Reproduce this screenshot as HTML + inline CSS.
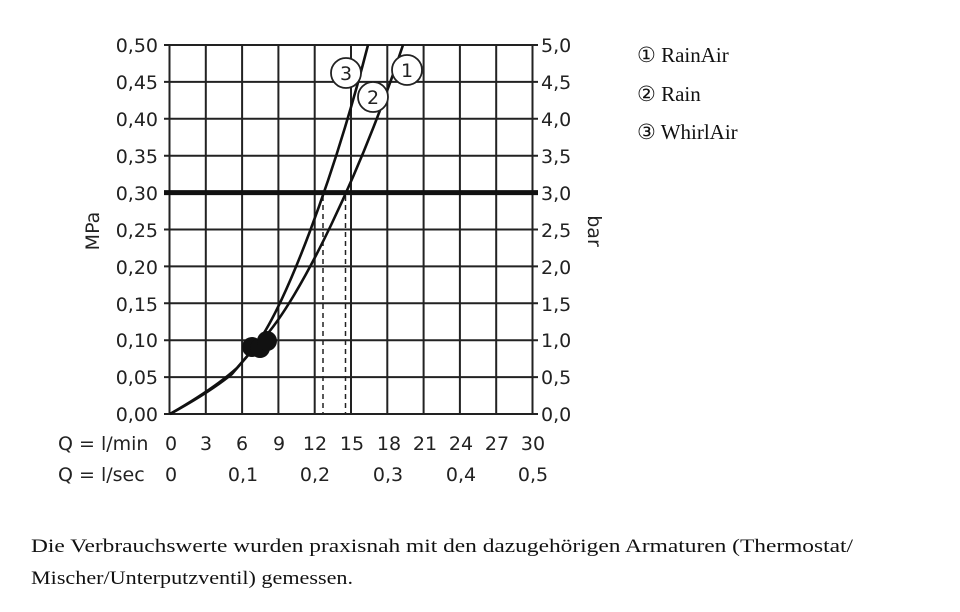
<!DOCTYPE html>
<html><head><meta charset="utf-8"><style>
html,body{margin:0;padding:0;background:#fff;}
svg{display:block;}
.s{font-family:"DejaVu Sans","Liberation Sans",sans-serif;font-size:19px;fill:#222;}
.r{font-family:"Liberation Serif",serif;fill:#111;}
</style></head><body>
<svg width="960" height="612" viewBox="0 0 960 612" xmlns="http://www.w3.org/2000/svg">
<g stroke="#222" stroke-width="2" fill="none">
<line x1="169.5" y1="45" x2="169.5" y2="414"/>
<line x1="205.8" y1="45" x2="205.8" y2="414"/>
<line x1="242.1" y1="45" x2="242.1" y2="414"/>
<line x1="278.4" y1="45" x2="278.4" y2="414"/>
<line x1="314.7" y1="45" x2="314.7" y2="414"/>
<line x1="351" y1="45" x2="351" y2="414"/>
<line x1="387.3" y1="45" x2="387.3" y2="414"/>
<line x1="423.6" y1="45" x2="423.6" y2="414"/>
<line x1="459.9" y1="45" x2="459.9" y2="414"/>
<line x1="496.2" y1="45" x2="496.2" y2="414"/>
<line x1="532.5" y1="45" x2="532.5" y2="414"/>
<line x1="164" y1="45" x2="538" y2="45"/>
<line x1="164" y1="81.9" x2="538" y2="81.9"/>
<line x1="164" y1="118.8" x2="538" y2="118.8"/>
<line x1="164" y1="155.7" x2="538" y2="155.7"/>
<line x1="164" y1="229.5" x2="538" y2="229.5"/>
<line x1="164" y1="266.4" x2="538" y2="266.4"/>
<line x1="164" y1="303.3" x2="538" y2="303.3"/>
<line x1="164" y1="340.2" x2="538" y2="340.2"/>
<line x1="164" y1="377.1" x2="538" y2="377.1"/>
<line x1="164" y1="414" x2="538" y2="414"/>
</g>
<line x1="164" y1="192.6" x2="538" y2="192.6" stroke="#111" stroke-width="5"/>
<g stroke="#222" stroke-width="1.5" stroke-dasharray="5,4">
<line x1="323" y1="196" x2="323" y2="413"/>
<line x1="345.5" y1="196" x2="345.5" y2="413"/>
</g>
<g stroke="#111" stroke-width="2.6" fill="none">
<path d="M170,414 Q215,388 237,368 L256,346"/>
<path d="M170,414 Q210,392 232,374 L256,346"/>
<path d="M258,342 C285,305 332,185 368,45"/>
<path d="M262,340 C300,300 362,170 403,45"/>
</g>
<g fill="#111">
<circle cx="252" cy="347" r="10"/><circle cx="260" cy="348" r="10"/><circle cx="267" cy="341" r="10"/>
</g>
<g fill="#fff" stroke="#222" stroke-width="1.8">
<circle cx="346" cy="73" r="15"/><circle cx="373" cy="97" r="15"/><circle cx="407" cy="70" r="15"/>
</g>
<g class="s" text-anchor="middle">
<text x="346" y="80">3</text><text x="373" y="104">2</text><text x="407" y="77">1</text>
</g>
<g class="s" text-anchor="end">
<text x="158" y="52">0,50</text><text x="158" y="89">0,45</text><text x="158" y="126">0,40</text><text x="158" y="163">0,35</text><text x="158" y="200">0,30</text><text x="158" y="237">0,25</text><text x="158" y="274">0,20</text><text x="158" y="311">0,15</text><text x="158" y="347">0,10</text><text x="158" y="384">0,05</text><text x="158" y="421">0,00</text>
</g>
<g class="s">
<text x="541" y="52">5,0</text><text x="541" y="89">4,5</text><text x="541" y="126">4,0</text><text x="541" y="163">3,5</text><text x="541" y="200">3,0</text><text x="541" y="237">2,5</text><text x="541" y="274">2,0</text><text x="541" y="311">1,5</text><text x="541" y="347">1,0</text><text x="541" y="384">0,5</text><text x="541" y="421">0,0</text>
</g>
<text class="s" transform="translate(99,231) rotate(-90)" text-anchor="middle">MPa</text>
<text class="s" transform="translate(588,231) rotate(90)" text-anchor="middle">bar</text>
<g class="s">
<text x="58" y="450">Q = l/min</text>
<text x="58" y="481">Q = l/sec</text>
</g>
<g class="s" text-anchor="middle">
<text x="171" y="450">0</text><text x="206" y="450">3</text><text x="242" y="450">6</text><text x="279" y="450">9</text><text x="315" y="450">12</text><text x="352" y="450">15</text><text x="389" y="450">18</text><text x="425" y="450">21</text><text x="461" y="450">24</text><text x="497" y="450">27</text><text x="533" y="450">30</text>
<text x="171" y="481">0</text><text x="243" y="481">0,1</text><text x="315" y="481">0,2</text><text x="388" y="481">0,3</text><text x="461" y="481">0,4</text><text x="533" y="481">0,5</text>
</g>
<g class="r" font-size="21">
<text x="637" y="62">① RainAir</text>
<text x="637" y="101">② Rain</text>
<text x="637" y="139">③ WhirlAir</text>
</g>
<g class="r" font-size="19">
<text x="31" y="552" textLength="822" lengthAdjust="spacingAndGlyphs">Die Verbrauchswerte wurden praxisnah mit den dazugehörigen Armaturen (Thermostat/</text>
<text x="31" y="584" textLength="322" lengthAdjust="spacingAndGlyphs">Mischer/Unterputzventil) gemessen.</text>
</g>
</svg>
</body></html>
